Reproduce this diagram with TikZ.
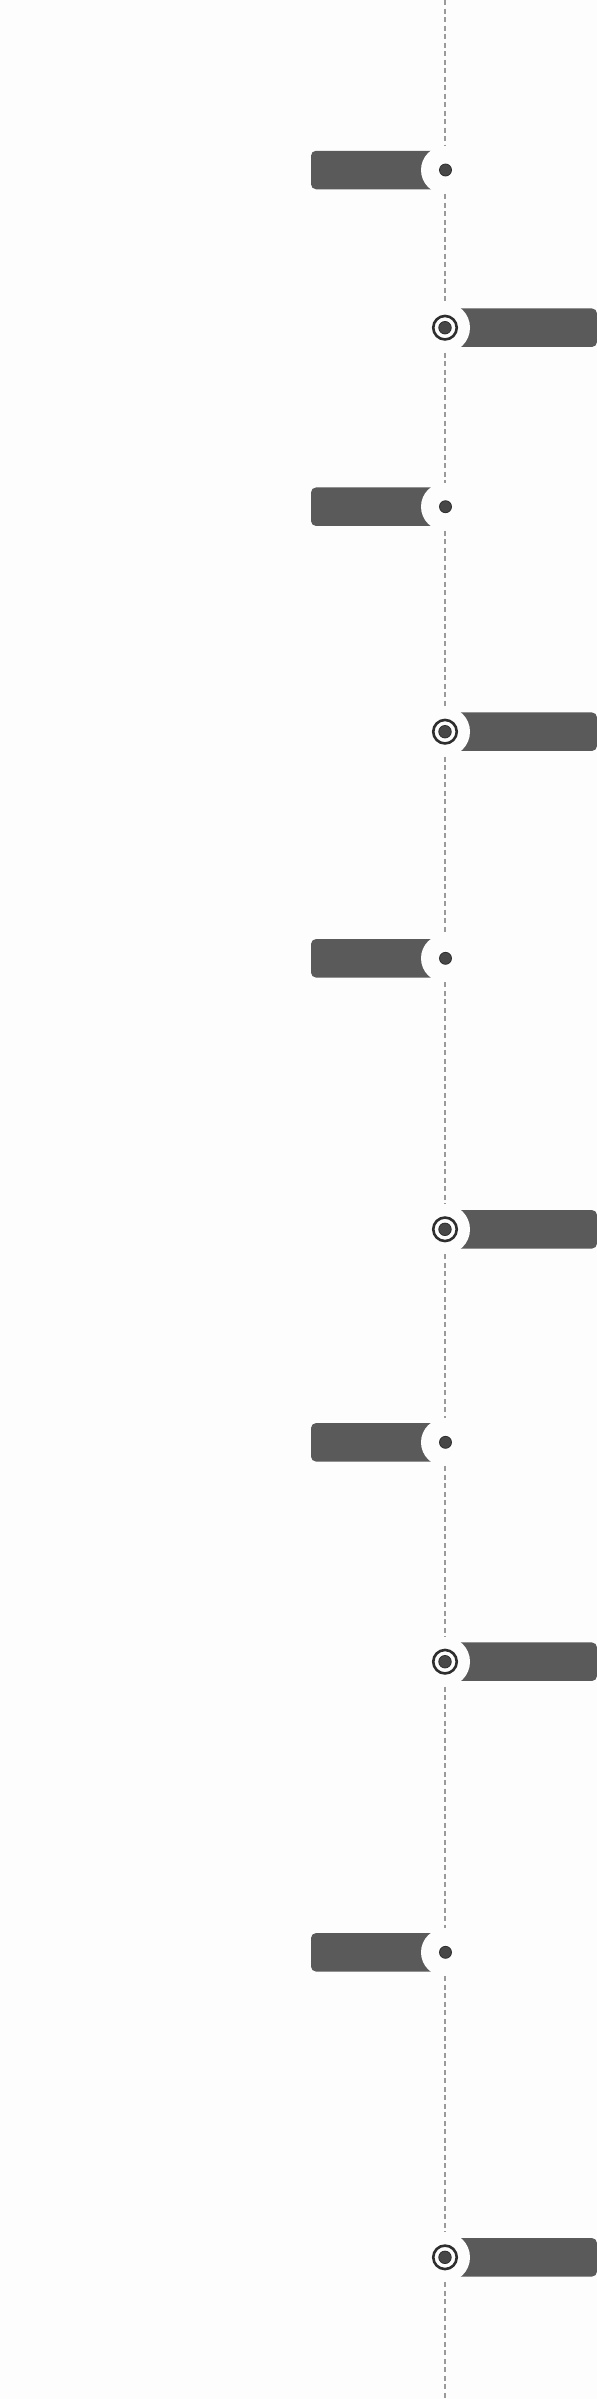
\documentclass[tikz,border=0pt]{standalone}
\begin{document}
\begin{tikzpicture}[x=1pt,y=-1pt,
  barL/.style={fill=barcol, draw=none, rounded corners=5pt, minimum width=134pt, minimum height=38.5pt, inner sep=0pt, outer sep=0pt, anchor=east},
  barR/.style={fill=barcol, draw=none, rounded corners=5pt, minimum width=152pt, minimum height=38.5pt, inner sep=0pt, outer sep=0pt, anchor=west},
  halo/.style={circle, fill=bg, draw=none, minimum size=48pt, inner sep=0pt, outer sep=0pt},
  dotL/.style={circle, fill=dotcol, draw=dotline, line width=0.8pt, minimum size=12pt, inner sep=0pt},
  ringR/.style={circle, fill=bg, draw=dotline, line width=2.6pt, minimum size=23.5pt, inner sep=0pt},
  dotR/.style={circle, fill=dotcol, draw=dotline, line width=0.8pt, minimum size=12.5pt, inner sep=0pt},
  spine/.style={draw=linecol, line width=2pt, dash pattern=on 5pt off 3.5pt}
]
\definecolor{barcol}{HTML}{5A5A5A}
\definecolor{dotcol}{HTML}{474747}
\definecolor{dotline}{HTML}{2E2E2E}
\definecolor{linecol}{HTML}{9A9A9A}
\definecolor{bg}{HTML}{FDFDFD}
\fill[bg] (0,0) rectangle (597,2399);
\useasboundingbox (0,0) rectangle (597,2399);

% left rows
\foreach \n/\y in {1/170, 2/506.7, 3/958.3, 4/1442.3, 5/1952.3}{
  \node[barL] (bl\n) at (445,\y) {};
  \node[halo] (hl\n) at (445,\y) {};
  \node[dotL] (dl\n) at (445.5,\y) {};
}
% right rows
\foreach \n/\y in {1/327.7, 2/731.7, 3/1229.3, 4/1661.7, 5/2257.3}{
  \node[barR] (br\n) at (445,\y) {};
  \node[halo, minimum size=50pt] (hr\n) at (445,\y) {};
  \node[ringR] (rr\n) at (445,\y) {};
  \node[dotR] (dr\n) at (445,\y) {};
}

\coordinate (top) at (445,0);
\coordinate (bot) at (445,2399);

\draw[spine] (top) -- (hl1);
\draw[spine] (hl1) -- (hr1);
\draw[spine] (hr1) -- (hl2);
\draw[spine] (hl2) -- (hr2);
\draw[spine] (hr2) -- (hl3);
\draw[spine] (hl3) -- (hr3);
\draw[spine] (hr3) -- (hl4);
\draw[spine] (hl4) -- (hr4);
\draw[spine] (hr4) -- (hl5);
\draw[spine] (hl5) -- (hr5);
\draw[spine] (hr5) -- (bot);
\end{tikzpicture}
\end{document}
